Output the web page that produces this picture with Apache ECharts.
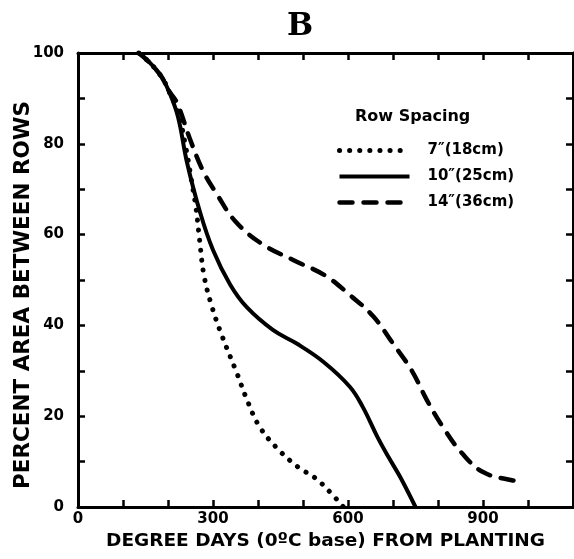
<!DOCTYPE html>
<html>
<head>
<meta charset="utf-8">
<script src="https://cdn.jsdelivr.net/npm/echarts@6/dist/echarts.min.js"></script>
<style>
  html, body { margin: 0; padding: 0; background: #fff; }
  #chart { width: 574px; height: 559px; }
</style>
</head>
<body>
<div id="chart"></div>
<script>
// row spacing names, in legend order
const spacings = ['7″(18cm)', '10″(25cm)', '14″(36cm)'];

// degree days / percent area between rows
const days7 = [135, 160, 186, 201, 222, 240, 252, 262, 270, 280, 298, 320, 353, 378, 404, 442, 489, 527, 556, 590];
const area7 = [100, 97.8, 94.7, 91.8, 87, 79, 72, 66, 59, 51, 44, 37.7, 29.5, 23, 17.6, 13, 8.8, 6.4, 3.7, 0];

const days10 = [135, 160, 186, 201, 222, 242, 271, 300, 338, 375, 433, 486, 545, 604, 633, 665, 690, 716, 750];
const area10 = [100, 97.8, 94.7, 91.8, 86, 76, 65, 56.6, 49, 44, 39, 36, 32, 26.5, 22, 15.5, 11, 6.6, 0];

const days14 = [135, 160, 186, 201, 220, 249, 278, 308, 349, 408, 478, 549, 604, 656, 700, 742, 775, 811, 853, 900, 964, 987];
const area14 = [100, 97.8, 94.7, 91.8, 89, 81, 74, 69, 63, 58, 54.4, 51, 46.7, 42, 36, 30, 23.6, 17.6, 11.9, 7.7, 5.9, 5.7];

const xLabels = [0, 300, 600, 900];
const yLabels = [0, 20, 40, 60, 80, 100];

const font = 'DejaVu Sans';
const zip = (xs, ys) => xs.map((x, i) => [x, ys[i]]);

// line looks, shared by the curves and their legend samples
const dotted = { color: '#000', width: 5, type: [0.1, 10], cap: 'round' };
const solid = { color: '#000', width: 4, type: 'solid' };
const dashed = { color: '#000', width: 4.5, type: [13, 11], cap: 'round' };
const looks = [dotted, solid, dashed];

const chart = echarts.init(document.getElementById('chart'));

const tickStyle = { lineStyle: { color: '#000', width: 2.5 }, length: 7, inside: true };
const axisLine = { onZero: false, lineStyle: { color: '#000', width: 3 } };

chart.setOption({
  animation: false,
  backgroundColor: '#fff',
  title: [{
    text: 'B',
    left: 282,
    top: 6,
    textStyle: { fontFamily: 'DejaVu Serif', fontWeight: 'bold', fontSize: 31, color: '#000' }
  }, {
    text: 'Row Spacing',
    left: 350,
    top: 104,
    textStyle: { fontFamily: font, fontWeight: 'bold', fontSize: 16, color: '#000' }
  }],
  legend: {
    orient: 'vertical',
    left: 332,
    top: 138,
    itemWidth: 70,
    itemHeight: 14,
    itemGap: 11,
    selectedMode: false,
    itemStyle: { opacity: 0 },
    textStyle: { fontFamily: font, fontWeight: 'bold', fontSize: 15, color: '#000', padding: [0, 0, 0, 13] },
    data: spacings.map((name, i) => ({ name, lineStyle: looks[i] }))
  },
  grid: { left: 78, right: 1, top: 53, bottom: 52, containLabel: false, outerBoundsMode: 'none' },
  xAxis: [{
    type: 'value',
    min: 0,
    max: 1100,
    interval: 100,
    position: 'bottom',
    name: 'DEGREE DAYS (0ºC base) FROM PLANTING',
    nameLocation: 'middle',
    nameGap: 25,
    nameMoveOverlap: false,
    nameTextStyle: { fontFamily: font, fontWeight: 'bold', fontSize: 18.5, color: '#000' },
    axisLine: axisLine,
    axisTick: tickStyle,
    splitLine: { show: false },
    axisLabel: {
      margin: 5,
      fontFamily: font, fontWeight: 'bold', fontSize: 15, color: '#000',
      formatter: v => xLabels.includes(v) ? String(v) : ''
    }
  }, {
    type: 'value',
    min: 0,
    max: 1100,
    interval: 100,
    position: 'top',
    axisLine: axisLine,
    axisTick: tickStyle,
    axisLabel: { show: false },
    splitLine: { show: false }
  }],
  yAxis: [{
    type: 'value',
    min: 0,
    max: 100,
    interval: 10,
    position: 'left',
    name: 'PERCENT AREA BETWEEN ROWS',
    nameLocation: 'middle',
    nameGap: 44,
    nameMoveOverlap: false,
    nameTextStyle: { fontFamily: font, fontWeight: 'bold', fontSize: 21.5, color: '#000', padding: [0, 30, 0, 0] },
    axisLine: axisLine,
    axisTick: tickStyle,
    splitLine: { show: false },
    axisLabel: {
      margin: 14,
      fontFamily: font, fontWeight: 'bold', fontSize: 15, color: '#000',
      formatter: v => yLabels.includes(v) ? String(v) : ''
    }
  }, {
    type: 'value',
    min: 0,
    max: 100,
    interval: 10,
    position: 'right',
    axisLine: axisLine,
    axisTick: tickStyle,
    axisLabel: { show: false },
    splitLine: { show: false }
  }],
  series: [{
    name: spacings[0],
    type: 'line',
    smooth: 0.4,
    symbol: 'none',
    data: zip(days7, area7),
    lineStyle: dotted
  }, {
    name: spacings[1],
    type: 'line',
    smooth: 0.4,
    symbol: 'none',
    data: zip(days10, area10),
    lineStyle: solid
  }, {
    name: spacings[2],
    type: 'line',
    smooth: 0.4,
    symbol: 'none',
    data: zip(days14, area14),
    lineStyle: dashed
  }]
});
</script>
</body>
</html>
